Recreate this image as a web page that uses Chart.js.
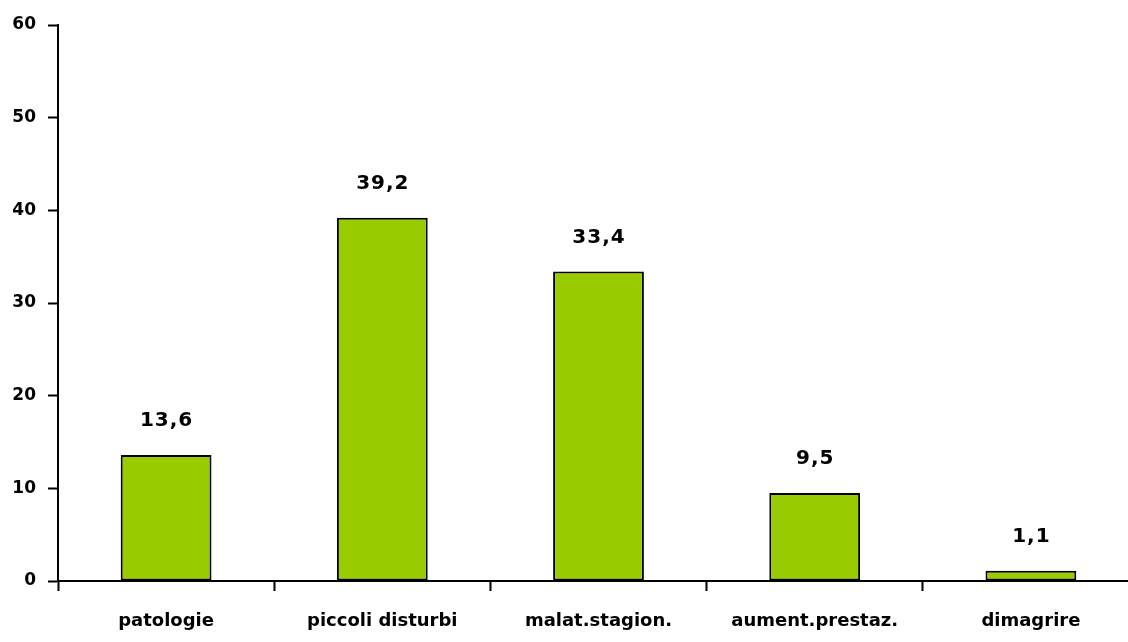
<!DOCTYPE html>
<html>
<head>
<meta charset="utf-8">
<script src="https://cdn.jsdelivr.net/npm/chart.js@4/dist/chart.umd.min.js"></script>
<style>
    html, body { margin: 0; padding: 0; background: #fff; overflow: hidden; }
    #wrap { width: 1140px; height: 642px; }
</style>
</head>
<body>
<div id="wrap"><canvas id="chart"></canvas></div>
<script>
// Chart data
const categories = ['patologie', 'piccoli disturbi', 'malat.stagion.', 'aument.prestaz.', 'dimagrire'];
const values = [13.6, 39.2, 33.4, 9.5, 1.1];
const yTicks = [0, 10, 20, 30, 40, 50, 60];

const fontFamily = '"DejaVu Sans", "Liberation Sans", sans-serif';

// Draw value labels above bars (comma decimals)
const valueLabels = {
    id: 'valueLabels',
    afterDatasetsDraw(chart) {
        const ctx = chart.ctx;
        const meta = chart.getDatasetMeta(0);
        ctx.save();
        ctx.fillStyle = '#000';
        ctx.font = 'bold 20px ' + fontFamily;
        ctx.letterSpacing = '1px';
        ctx.textAlign = 'center';
        ctx.textBaseline = 'middle';
        meta.data.forEach((bar, i) => {
            const text = values[i].toFixed(1).replace('.', ',');
            ctx.fillText(text, bar.x + 0.5, bar.y - 34);
        });
        ctx.restore();
    }
};

new Chart(document.getElementById('chart'), {
    type: 'bar',
    data: {
        labels: categories,
        datasets: [{
            data: values,
            backgroundColor: '#99CC00',
            borderColor: '#000',
            borderWidth: 2,
            borderSkipped: false,
            barPercentage: 0.84,
            categoryPercentage: 0.5
        }]
    },
    options: {
        responsive: true,
        maintainAspectRatio: false,
        animation: false,
        layout: { padding: { top: 25, right: 1, left: 0, bottom: 0 } },
        plugins: {
            legend: { display: false },
            tooltip: { enabled: false }
        },
        scales: {
            x: {
                grid: {
                    drawOnChartArea: false,
                    drawTicks: true,
                    tickLength: 10,
                    tickWidth: 2,
                    tickColor: '#000',
                    offset: true
                },
                border: { display: true, color: '#000', width: 2 },
                ticks: {
                    color: '#000',
                    padding: 20,
                    maxRotation: 0,
                    font: { family: fontFamily, size: 18, weight: 'bold' }
                },
                afterFit(scale) { scale.height = 61; }
            },
            y: {
                min: 0,
                max: 60,
                afterBuildTicks(scale) {
                    scale.ticks = yTicks.map(v => ({ value: v }));
                },
                grid: {
                    drawOnChartArea: false,
                    drawTicks: true,
                    tickLength: 10,
                    tickWidth: 2,
                    tickColor: '#000'
                },
                border: { display: true, color: '#000', width: 2 },
                ticks: {
                    color: '#000',
                    padding: 12,
                    font: { family: fontFamily, size: 17, weight: 'bold' }
                },
                afterFit(scale) { scale.width = 58; }
            }
        }
    },
    plugins: [valueLabels]
});
</script>
</body>
</html>
